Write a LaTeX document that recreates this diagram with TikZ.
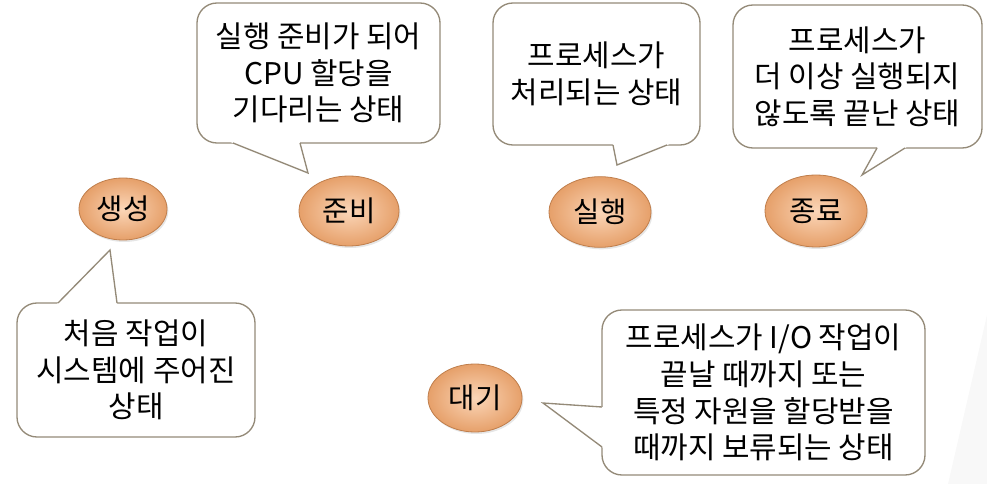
\documentclass[tikz,border=0pt]{standalone}
\usepackage{fontspec}
\setmainfont{Noto Sans CJK KR}
\usetikzlibrary{shapes.geometric,shadows,calc}
\definecolor{peachlight}{HTML}{FBD6B8}
\definecolor{peachdark}{HTML}{E6A06A}
\definecolor{peachedge}{HTML}{BF7E4C}
\definecolor{bubbleline}{HTML}{948A78}
\definecolor{slidegray}{HTML}{F8F8F8}
\tikzset{
  state/.style={ellipse,minimum width=76.5pt,minimum height=53pt,inner sep=0pt,
    shading=radial,inner color=peachlight,outer color=peachdark,
    draw=peachedge,line width=0.6pt,
    drop shadow={opacity=0.2,shadow xshift=1pt,shadow yshift=-1.5pt},
    font=\fontsize{21.5}{24}\selectfont},
  bubble/.style={rectangle,rounded corners=15pt,draw=bubbleline,line width=1pt,
    fill=white,align=center,inner sep=0pt,font=\fontsize{22.4}{27.5}\selectfont},
  ptr/.style={draw=bubbleline,line width=1pt,line join=miter},
}
% callout tip: base point, base point, tip
\newcommand\calloutptr[3]{%
  \fill[white] ($(#1)!-2pt!(#3)$) -- (#3) -- ($(#2)!-2pt!(#3)$) -- cycle;
  \draw[ptr] (#1) -- (#3) -- (#2);}

\begin{document}
\begin{tikzpicture}[x=0.75pt,y=-0.75pt]
\useasboundingbox (0,0) rectangle (987,484);
\fill[slidegray] (987,315) -- (948,484) -- (987,484) -- cycle;

% speech bubbles
\node[bubble,minimum width=178.5pt,minimum height=100.5pt] (bsaeng) at (136,370)
  {처음 작업이\\시스템에 주어진\\상태};
\node[bubble,minimum width=182.25pt,minimum height=105pt] (bjunbi) at (318.5,73)
  {실행 준비가 되어\\CPU 할당을\\기다리는 상태};
\node[bubble,minimum width=155.25pt,minimum height=106.5pt] (bsilhaeng) at (596.5,74)
  {프로세스가\\처리되는 상태};
\node[bubble,minimum width=186.75pt,minimum height=107.25pt] (bjongryo) at (857.5,76.5)
  {프로세스가\\더 이상 실행되지\\않도록 끝난 상태};
\node[bubble,minimum width=242.25pt,minimum height=123.75pt] (bdaegi) at (763.5,392.5)
  {프로세스가 I/O 작업이\\끝날 때까지 또는\\특정 자원을 할당받을\\때까지 보류되는 상태};

\coordinate (s1) at (58,303);  \coordinate (s2) at (117,303);  \coordinate (st) at (110,250);
\coordinate (j1) at (233,143); \coordinate (j2) at (300,143);  \coordinate (jt) at (308,173);
\coordinate (r1) at (613,145); \coordinate (r2) at (667,145);  \coordinate (rt) at (617,165);
\coordinate (e1) at (877,148); \coordinate (e2) at (905,148);  \coordinate (et) at (862,175);
\coordinate (w1) at (602,407); \coordinate (w2) at (602,447);  \coordinate (wt) at (543,403);
\calloutptr{s1}{s2}{st}
\calloutptr{j1}{j2}{jt}
\calloutptr{r1}{r2}{rt}
\calloutptr{e1}{e2}{et}
\calloutptr{w1}{w2}{wt}

% process states
\node[state,minimum width=66pt,minimum height=46.5pt] (saeng) at (123,209) {생성};
\node[state,minimum width=75pt,minimum height=52.5pt] (junbi) at (349,211) {준비};
\node[state] (silhaeng) at (600,212) {실행};
\node[state,minimum height=54pt] (jongryo) at (816,211) {종료};
\node[state,minimum width=70.5pt,minimum height=51pt] (daegi) at (475,398) {대기};
\end{tikzpicture}
\end{document}
